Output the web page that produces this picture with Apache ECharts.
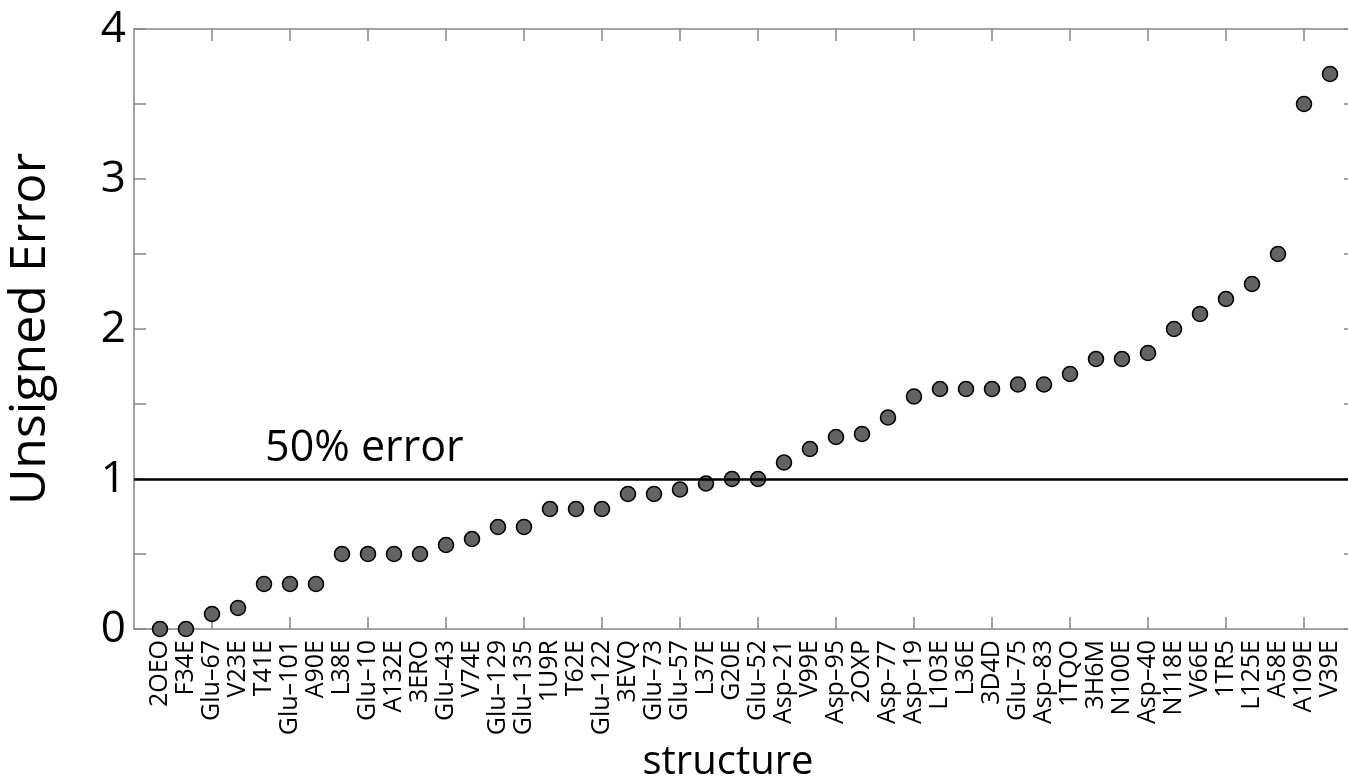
<!DOCTYPE html>
<html>
<head>
    <meta charset="UTF-8">
    <title>Unsigned Error by structure</title>
    <script src="https://cdn.jsdelivr.net/npm/echarts@6/dist/echarts.min.js"></script>
    <style>
        html, body { margin: 0; padding: 0; background: #fff; }
        #chart { width: 1348px; height: 776px; }
    </style>
</head>
<body>
    <div id="chart"></div>
    <script>
        // structures, in plotted order
        var structures = [
            '2OEO', 'F34E', 'Glu–67', 'V23E', 'T41E', 'Glu–101', 'A90E', 'L38E',
            'Glu–10', 'A132E', '3ERO', 'Glu–43', 'V74E', 'Glu–129', 'Glu–135', '1U9R',
            'T62E', 'Glu–122', '3EVQ', 'Glu–73', 'Glu–57', 'L37E', 'G20E', 'Glu–52',
            'Asp–21', 'V99E', 'Asp–95', '2OXP', 'Asp–77', 'Asp–19', 'L103E', 'L36E',
            '3D4D', 'Glu–75', 'Asp–83', '1TQO', '3H6M', 'N100E', 'Asp–40', 'N118E',
            'V66E', '1TR5', 'L125E', 'A58E', 'A109E', 'V39E'
        ];
        // unsigned error per structure
        var errors = [
            0, 0, 0.1, 0.14, 0.3, 0.3, 0.3, 0.5,
            0.5, 0.5, 0.5, 0.56, 0.6, 0.68, 0.68, 0.8,
            0.8, 0.8, 0.9, 0.9, 0.93, 0.97, 1.0, 1.0,
            1.11, 1.2, 1.28, 1.3, 1.41, 1.55, 1.6, 1.6,
            1.6, 1.63, 1.63, 1.7, 1.8, 1.8, 1.84, 2.0,
            2.1, 2.2, 2.3, 2.5, 3.5, 3.7
        ];
        var yTickLabels = [0, 1, 2, 3, 4];
        var threshold = 1;
        var thresholdText = '50% error';

        var font = 'Open Sans';
        var axisGrey = '#858585';

        var points = errors.map(function (v, i) { return [i + 1, v]; });
        var labelPositions = structures.map(function (s, i) { return i + 1; });
        var tickPositions = [];
        for (var t = 3; t <= structures.length; t += 3) tickPositions.push(t);

        var chart = echarts.init(document.getElementById('chart'));

        var baseX = {
            type: 'value', min: 0, max: 47,
            axisLine: { show: true, onZero: false, lineStyle: { color: axisGrey, width: 1.5 } },
            splitLine: { show: false }
        };
        var baseY = {
            type: 'value', min: 0, max: 4, interval: 0.5,
            axisLine: { show: true, onZero: false, lineStyle: { color: axisGrey, width: 1.5 } },
            axisTick: { show: true, inside: true, length: 12, lineStyle: { color: axisGrey, width: 1.5 } },
            splitLine: { show: false }
        };

        var option = {
            animation: false,
            backgroundColor: '#fff',
            grid: { left: 134, right: -8, top: 29, bottom: 147, outerBoundsMode: 'none', containLabel: false },
            xAxis: [
                Object.assign({}, baseX, {
                    position: 'bottom',
                    name: 'structure',
                    nameLocation: 'middle',
                    nameGap: 106,
                    nameTextStyle: { fontFamily: font, fontSize: 40, color: '#000', padding: [0, 34, 0, 0] },
                    axisTick: { show: true, inside: true, length: 12, customValues: tickPositions,
                        lineStyle: { color: axisGrey, width: 1.5 } },
                    axisLabel: {
                        show: true, rotate: 90, margin: 11, customValues: labelPositions,
                        fontFamily: font, fontSize: 25, color: '#000',
                        formatter: function (v) { return structures[Math.round(v) - 1] || ''; }
                    }
                }),
                Object.assign({}, baseX, {
                    position: 'top',
                    axisTick: { show: true, inside: true, length: 12, customValues: tickPositions,
                        lineStyle: { color: axisGrey, width: 1.5 } },
                    axisLabel: { show: false }
                })
            ],
            yAxis: [
                Object.assign({}, baseY, {
                    position: 'left',
                    name: 'Unsigned Error',
                    nameLocation: 'middle',
                    nameGap: 78,
                    nameTextStyle: { fontFamily: font, fontSize: 50, color: '#000' },
                    axisLabel: {
                        show: true, margin: 8, fontFamily: font, fontSize: 44, color: '#000',
                        formatter: function (v) { return yTickLabels.indexOf(v) >= 0 ? String(v) : ''; }
                    }
                }),
                Object.assign({}, baseY, {
                    position: 'right',
                    axisLabel: { show: false }
                })
            ],
            series: [{
                type: 'scatter',
                data: points,
                symbol: 'circle',
                symbolSize: 15,
                itemStyle: { color: '#636363', borderColor: '#000', borderWidth: 1.6, opacity: 1 },
                markLine: {
                    silent: true,
                    symbol: 'none',
                    label: { show: false },
                    lineStyle: { color: '#000', width: 2.5, type: 'solid' },
                    data: [{ yAxis: threshold }]
                },
                z: 3
            }]
        };

        chart.setOption(option);

        // annotation sits just above the threshold line near x = 5
        var p = chart.convertToPixel({ gridIndex: 0 }, [5.04, threshold]);
        chart.setOption({
            graphic: [{
                type: 'text',
                x: p[0], y: p[1] - 9,
                style: {
                    text: thresholdText, fill: '#000',
                    font: '43px "' + font + '"',
                    textAlign: 'left', textVerticalAlign: 'bottom'
                }
            }]
        });
    </script>
</body>
</html>
